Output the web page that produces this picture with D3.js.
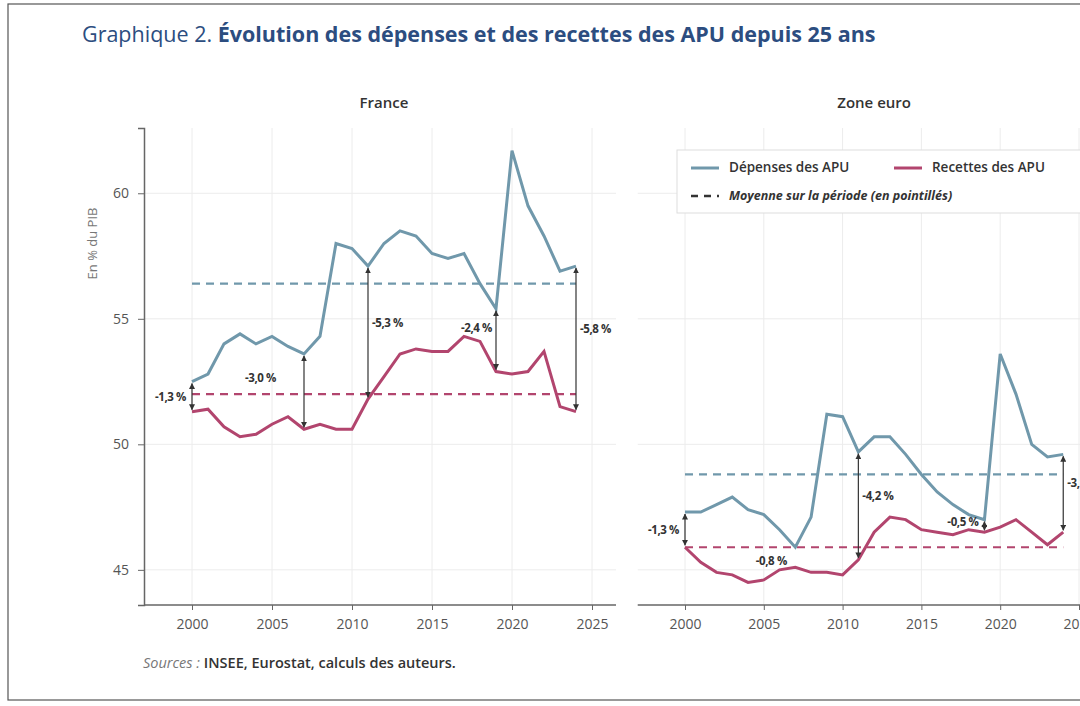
<!DOCTYPE html>
<html>
<head>
<meta charset="utf-8">
<title>Dépenses et recettes des APU</title>
<style>
  body { margin: 0; background: #fff; }
  text { font-family: "Open Sans", "Noto Sans", sans-serif; }
</style>
</head>
<body>
<div id="container"></div>
<script src="https://cdn.jsdelivr.net/npm/d3@7"></script>
<script>
// années
var years = d3.range(2000, 2025)

// France (% du PIB)
var frDepenses = [52.5, 52.8, 54.0, 54.4, 54.0, 54.3, 53.9, 53.6, 54.3, 58.0, 57.8, 57.1, 58.0, 58.5, 58.3,
                  57.6, 57.4, 57.6, 56.4, 55.4, 61.7, 59.5, 58.3, 56.9, 57.1]
var frRecettes = [51.3, 51.4, 50.7, 50.3, 50.4, 50.8, 51.1, 50.6, 50.8, 50.6, 50.6, 51.8, 52.7, 53.6, 53.8,
                  53.7, 53.7, 54.3, 54.1, 52.9, 52.8, 52.9, 53.7, 51.5, 51.3]
var frMoyennes = [56.4, 52.0]
var frAnnot = [
  {year: 2000, label: '-1,3 %', side: 'left'},
  {year: 2007, label: '-3,0 %', side: 'leftmid'},
  {year: 2011, label: '-5,3 %', side: 'right'},
  {year: 2019, label: '-2,4 %', side: 'top'},
  {year: 2024, label: '-5,8 %', side: 'right'}
]

// Zone euro
var zeDepenses = [47.3, 47.3, 47.6, 47.9, 47.4, 47.2, 46.6, 45.9, 47.1, 51.2, 51.1, 49.7, 50.3, 50.3, 49.6,
                  48.8, 48.1, 47.6, 47.2, 47.0, 53.6, 52.0, 50.0, 49.5, 49.6]
var zeRecettes = [45.9, 45.3, 44.9, 44.8, 44.5, 44.6, 45.0, 45.1, 44.9, 44.9, 44.8, 45.4, 46.5, 47.1, 47.0,
                  46.6, 46.5, 46.4, 46.6, 46.5, 46.7, 47.0, 46.5, 46.0, 46.5]
var zeMoyennes = [48.8, 45.9]
var zeAnnot = [
  {year: 2000, label: '-1,3 %', side: 'left'},
  {year: 2007, label: '-0,8 %', side: 'below'},
  {year: 2011, label: '-4,2 %', side: 'right'},
  {year: 2019, label: '-0,5 %', side: 'topleft'},
  {year: 2024, label: '-3,1 %', side: 'right'}
]

var xTicks = [2000, 2005, 2010, 2015, 2020, 2025]
var yTicks = [45, 50, 55, 60]

var colDep = '#7098ab', colRec = '#b2456e', grid = '#ececec'

var width = 1080, height = 706
var svg = d3.select('#container').append('svg')
    .attr('width', width).attr('height', height)

svg.append('rect').attr('x', 8).attr('y', 4).attr('width', 1090).attr('height', 696)
    .attr('fill', '#fff').attr('stroke', '#555').attr('stroke-width', 1.2)

var defs = svg.append('defs')
defs.append('marker').attr('id', 'arr').attr('viewBox', '0 0 10 10')
    .attr('refX', 9).attr('refY', 5).attr('markerWidth', 5).attr('markerHeight', 5)
    .attr('orient', 'auto-start-reverse')
  .append('path').attr('d', 'M0,0L10,5L0,10z').attr('fill', '#333')

svg.append('text').attr('x', 82).attr('y', 42).attr('font-size', 21.5).attr('fill', '#2c4d80')
  .call(function (t) {
    t.append('tspan').text('Graphique 2. ')
    t.append('tspan').attr('font-weight', 700).text('Évolution des dépenses et des recettes des APU depuis 25 ans')
  })

var y = d3.scaleLinear().domain([43.6, 62.6]).range([605, 128])

svg.append('text').attr('transform', 'translate(97,' + y(58) + ') rotate(-90)')
    .attr('text-anchor', 'middle').attr('font-size', 13).attr('fill', '#777').text('En % du PIB')

function panel(x0, x1, title, dep, rec, moy, annot, showY) {
  var x = d3.scaleLinear().domain([2000, 2025]).range([x0, x1])
  var g = svg.append('g')
  var xl = x(1997), xr = x(2026.5)

  g.selectAll('.vg').data(xTicks).enter().append('line')
    .attr('x1', function (d) { return x(d) }).attr('x2', function (d) { return x(d) })
    .attr('y1', 128).attr('y2', 605).attr('stroke', grid)
  g.selectAll('.hg').data(yTicks).enter().append('line')
    .attr('x1', xl).attr('x2', xr)
    .attr('y1', function (d) { return y(d) }).attr('y2', function (d) { return y(d) }).attr('stroke', grid)

  var xa = g.append('g').attr('transform', 'translate(0,605)')
    .call(d3.axisBottom(x).tickValues(xTicks).tickFormat(d3.format('d')).tickSize(5).tickPadding(9))
  xa.select('.domain').attr('d', 'M' + xl + ',0H' + xr).attr('stroke', '#666').attr('stroke-width', 1.5)
  xa.selectAll('line').attr('stroke', '#666')
  xa.selectAll('text').attr('font-size', 14).attr('fill', '#555')

  if (showY) {
    var ya = g.append('g').attr('transform', 'translate(' + xl + ',0)')
      .call(d3.axisLeft(y).tickValues(yTicks).tickSize(6).tickPadding(9))
    ya.select('.domain').attr('stroke', '#666').attr('stroke-width', 1.5)
    ya.selectAll('line').attr('stroke', '#666')
    ya.selectAll('text').attr('font-size', 14).attr('fill', '#555')
  }

  g.append('text').attr('x', (x(2000) + x(2024)) / 2).attr('y', 108).attr('text-anchor', 'middle')
    .attr('font-size', 15).attr('font-weight', 600).attr('fill', '#333').text(title)

  moy.forEach(function (m, i) {
    g.append('line').attr('x1', x(2000)).attr('x2', x(2024)).attr('y1', y(m)).attr('y2', y(m))
      .attr('stroke', i === 0 ? colDep : colRec).attr('stroke-width', 2.2).attr('stroke-dasharray', '8,6')
  })

  var line = d3.line().x(function (d, i) { return x(years[i]) }).y(function (d) { return y(d) })
  g.append('path').datum(dep).attr('d', line).attr('fill', 'none').attr('stroke', colDep).attr('stroke-width', 3)
  g.append('path').datum(rec).attr('d', line).attr('fill', 'none').attr('stroke', colRec).attr('stroke-width', 3)

  annot.forEach(function (a) {
    var i = years.indexOf(a.year), xx = x(a.year), yd = y(dep[i]), yr = y(rec[i])
    if (a.side !== 'below') {
      g.append('line').attr('x1', xx).attr('x2', xx).attr('y1', yd + 2).attr('y2', yr - 2)
        .attr('stroke', '#333').attr('stroke-width', 1.2)
        .attr('marker-start', 'url(#arr)').attr('marker-end', 'url(#arr)')
    }
    var tx = xx + 4, ty = (yd + yr) / 2 + 4, anchor = 'start'
    if (a.side === 'left') { tx = xx - 6; anchor = 'end' }
    if (a.side === 'leftmid') { tx = xx - 28; anchor = 'end'; ty = (yd + yr) / 2 - 10 }
    if (a.side === 'top') { tx = xx - 4; anchor = 'end'; ty = y(rec[i - 2]) - 4 }
    if (a.side === 'topleft') { tx = xx - 6; anchor = 'end'; ty = yr - 6 }
    if (a.side === 'right') { ty = (yd + yr) / 2 - 6 }
    if (a.side === 'below') { tx = xx - 24; anchor = 'middle'; ty = yr - 2 }
    g.append('text').attr('x', tx).attr('y', ty).attr('text-anchor', anchor)
      .attr('font-size', 11.5).attr('font-weight', 700).attr('fill', '#333').attr('letter-spacing', -0.4).text(a.label)
  })
  return x
}

panel(192, 592, 'France', frDepenses, frRecettes, frMoyennes, frAnnot, true)
panel(685, 1079, 'Zone euro', zeDepenses, zeRecettes, zeMoyennes, zeAnnot, false)

// légende
var lg = svg.append('g').attr('transform', 'translate(677,150)')
lg.append('rect').attr('width', 410).attr('height', 63).attr('fill', '#fff').attr('stroke', '#ddd')
lg.append('line').attr('x1', 14).attr('x2', 42).attr('y1', 18).attr('y2', 18).attr('stroke', colDep).attr('stroke-width', 3)
lg.append('text').attr('x', 52).attr('y', 22).attr('font-size', 13.5).attr('font-weight', 600).attr('fill', '#333').text('Dépenses des APU')
lg.append('line').attr('x1', 217).attr('x2', 245).attr('y1', 18).attr('y2', 18).attr('stroke', colRec).attr('stroke-width', 3)
lg.append('text').attr('x', 255).attr('y', 22).attr('font-size', 13.5).attr('font-weight', 600).attr('fill', '#333').text('Recettes des APU')
lg.append('line').attr('x1', 14).attr('x2', 42).attr('y1', 46).attr('y2', 46).attr('stroke', '#333')
  .attr('stroke-width', 2.5).attr('stroke-dasharray', '7,6')
lg.append('text').attr('x', 52).attr('y', 50).attr('font-size', 12.5).attr('font-style', 'italic')
  .attr('font-weight', 700).attr('fill', '#333').text('Moyenne sur la période (en pointillés)')

svg.append('text').attr('x', 143).attr('y', 668).attr('font-size', 14.5).attr('fill', '#333')
  .call(function (t) {
    t.append('tspan').attr('font-style', 'italic').attr('fill', '#777').text('Sources : ')
    t.append('tspan').attr('font-weight', 600).text('INSEE, Eurostat, calculs des auteurs.')
  })
</script>
</body>
</html>
